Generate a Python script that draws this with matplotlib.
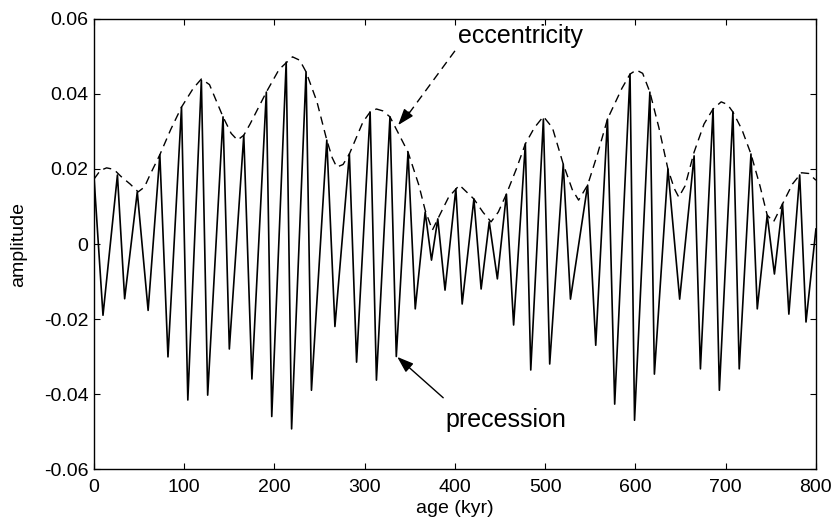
import matplotlib
matplotlib.use("Agg")
import matplotlib.pyplot as plt

# precession signal: successive peaks and troughs (age kyr, amplitude)
prec_age = [0, 10, 26, 34, 48, 60, 73, 82, 97, 104, 119, 126, 143, 150, 166, 175,
            191, 197, 213, 219, 235, 241, 258, 267, 283, 291, 306, 313, 328, 335,
            348, 356, 367, 374, 381, 389, 401, 408, 421, 429, 438, 447, 457, 465,
            478, 484, 498, 505, 520, 528, 547, 556, 569, 577, 594, 599, 616, 621,
            636, 649, 665, 672, 686, 693, 708, 715, 728, 735, 746, 754, 763, 770,
            782, 789, 800]
prec_amp = [0.018, -0.019, 0.0184, -0.0146, 0.0139, -0.0177, 0.0238, -0.0301,
            0.0365, -0.0416, 0.0437, -0.0403, 0.0339, -0.028, 0.029, -0.036,
            0.0405, -0.046, 0.0485, -0.0493, 0.0459, -0.039, 0.0277, -0.022,
            0.024, -0.0315, 0.0352, -0.0363, 0.0339, -0.030, 0.0245, -0.0173,
            0.0085, -0.0043, 0.0067, -0.0123, 0.0147, -0.016, 0.012, -0.012,
            0.0059, -0.0093, 0.0133, -0.0216, 0.0267, -0.0336, 0.0333, -0.032,
            0.0213, -0.0147, 0.0157, -0.027, 0.0333, -0.0427, 0.0453, -0.047,
            0.0405, -0.0347, 0.020, -0.0147, 0.0235, -0.0333, 0.036, -0.039,
            0.0352, -0.0333, 0.024, -0.0173, 0.0077, -0.008, 0.0107, -0.0187,
            0.0184, -0.0208, 0.004]

# eccentricity envelope (dashed)
ecc_age = [0, 7, 14, 22, 30, 40, 49, 56, 62, 73, 85, 97, 110, 119, 128, 143, 152,
           159, 166, 173, 191, 205, 220, 228, 235, 247, 258, 264, 269, 276, 283,
           298, 306, 313, 320, 328, 348, 360, 367, 375, 381, 393, 405, 421, 431,
           440, 448, 457, 468, 478, 488, 498, 508, 520, 530, 537, 547, 558, 569,
           585, 594, 601, 608, 616, 626, 636, 643, 648, 655, 665, 676, 686, 695,
           702, 708, 718, 728, 738, 746, 753, 763, 774, 784, 792, 800]
ecc_amp = [0.0173, 0.0196, 0.0203, 0.0199, 0.018, 0.016, 0.0139, 0.0152, 0.0184,
           0.0238, 0.0305, 0.0365, 0.0415, 0.044, 0.0425, 0.0339, 0.0295, 0.0277,
           0.029, 0.032, 0.0405, 0.0465, 0.0499, 0.049, 0.0459, 0.038, 0.0277,
           0.023, 0.0205, 0.0212, 0.024, 0.0325, 0.0352, 0.036, 0.0355, 0.0339,
           0.0245, 0.0157, 0.009, 0.0037, 0.0067, 0.0125, 0.0157, 0.012, 0.0085,
           0.0059, 0.0085, 0.0133, 0.020, 0.0267, 0.031, 0.034, 0.031, 0.0213,
           0.0145, 0.0117, 0.0157, 0.024, 0.0333, 0.0415, 0.0453, 0.0464, 0.0455,
           0.0405, 0.031, 0.020, 0.0148, 0.0125, 0.0155, 0.0245, 0.032, 0.036,
           0.0379, 0.0372, 0.0352, 0.0305, 0.024, 0.0155, 0.0077, 0.0059, 0.0107,
           0.016, 0.019, 0.0188, 0.017]

xticks = [0, 100, 200, 300, 400, 500, 600, 700, 800]
yticks = [-0.06, -0.04, -0.02, 0, 0.02, 0.04, 0.06]
ytick_labels = ["-0.06", "-0.04", "-0.02", "0", "0.02", "0.04", "0.06"]

plt.rcParams["font.family"] = ["Liberation Sans", "DejaVu Sans"]

fig = plt.figure(figsize=(8.36, 5.27), dpi=100)
ax = fig.add_axes([0.1124, 0.110, 0.8636, 0.854])

ax.plot(prec_age, prec_amp, color="black", lw=1.2, solid_joinstyle="round")
ax.plot(ecc_age, ecc_amp, color="black", lw=1.0, dashes=(6, 4))

ax.set_xlim(0, 800)
ax.set_ylim(-0.06, 0.06)
ax.set_xticks(xticks)
ax.set_yticks(yticks)
ax.set_yticklabels(ytick_labels)
ax.tick_params(direction="in", top=True, right=True, length=4, labelsize=14)
ax.tick_params(axis="x", pad=7)
ax.tick_params(axis="y", pad=4)
for s in ax.spines.values():
    s.set_linewidth(1.0)

ax.set_xlabel("age (kyr)", fontsize=14, labelpad=3)
ax.set_ylabel("amplitude", fontsize=14, labelpad=12)

# eccentricity label with dashed leader and solid head
ax.text(403, 0.0535, "eccentricity", fontsize=18, va="baseline", ha="left")
ax.plot([400, 345], [0.0515, 0.0335], color="black", lw=1.0, dashes=(6, 4))
ax.annotate("", xy=(337, 0.0317), xytext=(349, 0.0352),
            arrowprops=dict(arrowstyle="-|>,head_length=1.0,head_width=0.35",
                            color="black", lw=1.0, shrinkA=0, shrinkB=0))

# precession label with solid arrow
ax.text(389, -0.0488, "precession", fontsize=18, va="baseline", ha="left")
ax.annotate("", xy=(336, -0.0301), xytext=(387, -0.041),
            arrowprops=dict(arrowstyle="-|>,head_length=1.0,head_width=0.35",
                            color="black", lw=1.0, shrinkA=0, shrinkB=0))

fig.savefig("out.png", dpi=100)
